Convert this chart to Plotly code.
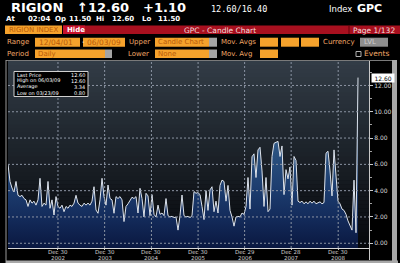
import plotly.graph_objects as go
import pandas as pd

# ---------------- data ----------------
start_date = "2001-12-04"
end_date = "2009-06-03"
prices = [
    6.0, 4.7, 4.2, 3.9, 4.7, 3.65, 3.55, 3.65, 3.4, 3.3,
    2.8, 3.3, 3.05, 3.2, 2.9, 3.3, 4.94, 2.8, 3.05, 2.9,
    4.7, 2.66, 3.3, 2.15, 3.55, 2.8, 2.66, 2.9, 2.4, 2.8,
    2.66, 2.9, 2.8, 3.05, 3.65, 3.05, 2.9, 2.8, 3.05, 2.9,
    3.05, 2.9, 3.2, 4.3, 2.53, 2.28, 3.3, 4.94, 3.55, 2.9,
    4.43, 3.4, 3.3, 2.28, 3.55, 3.4, 3.55, 3.3, 1.65,
    2.8, 3.0, 3.3, 3.5, 3.4, 3.55, 2.3, 4.18, 3.4, 2.0,
    3.8, 3.6, 2.1, 3.7, 2.2, 2.0, 2.9, 2.2, 2.3, 2.1,
    3.4, 2.1, 2.0, 2.05, 1.95, 2.0, 1.0, 2.1, 3.67, 2.1,
    2.0, 2.05, 1.95, 2.1, 3.93, 3.8, 3.85, 3.7, 2.8, 1.8,
    4.0, 2.5, 4.06, 4.3, 2.4, 3.2, 2.3, 4.4, 4.8, 4.7,
    3.2, 4.4, 2.5, 2.0, 1.3, 2.0, 2.05, 2.0, 2.3, 2.2,
    2.8, 5.0, 2.6, 6.58, 6.8, 5.0, 7.1, 7.3, 5.5, 2.8,
    5.0, 2.4, 2.6, 6.6, 7.6, 7.7, 7.75, 6.6, 7.4, 3.7,
    5.6, 4.9, 5.8, 2.9, 6.6, 6.3, 3.2, 3.1, 3.2, 3.0,
    3.15, 3.0, 3.2, 3.05, 3.2, 3.0, 3.1, 3.15, 3.0, 3.1,
    6.85, 7.0, 5.5, 3.6, 7.1, 5.3, 3.2, 3.0, 2.6, 2.5,
    2.2, 1.7, 1.4, 1.0, 4.8, 0.8, 12.6,
]
dates = pd.date_range(start_date, end_date, periods=len(prices))

y_ticks = [0, 2, 4, 6, 8, 10, 12]
y_ticktext = ["0.00", "2.00", "4.00", "6.00", "8.00", "10.00", "12.00"]
y_minor = [1, 3, 5, 7, 9, 11, 13]
x_tickdates = ["2002-12-30", "2003-12-30", "2004-12-30", "2005-12-30",
               "2006-12-29", "2007-12-28", "2008-12-30"]
x_tick_day = ["Dec 30", "Dec 30", "Dec 30", "Dec 30", "Dec 29", "Dec 28", "Dec 30"]
x_tick_year = ["2002", "2003", "2004", "2005", "2006", "2007", "2008"]

legend_labels = ["Last Price", "High on 06/03/09", "Average", "Low on 03/23/09"]
legend_values = ["12.60", "12.60", "3.34", "0.80"]

Y_MIN, Y_MAX = -0.36, 13.86
X_RANGE = ["2001-12-04", "2009-08-28"]

# ---------------- layout helpers ----------------
W, H = 400, 263
PL, PR, PT, PB = 8, 369, 61, 248


def fx(px):
    return (px - PL) / (PR - PL)


def fy(py):
    return (PB - py) / (PB - PT)


shapes = []
annotations = []


def rect(x0, y0, x1, y1, fill, line=None, lw=0, layer="above"):
    shapes.append(dict(type="rect", xref="paper", yref="paper",
                       x0=fx(x0), x1=fx(x1), y0=fy(y1), y1=fy(y0),
                       fillcolor=fill, line=dict(color=line or fill, width=lw),
                       layer=layer))


def pline(x0, y0, x1, y1, color, width=1):
    shapes.append(dict(type="line", xref="paper", yref="paper",
                       x0=fx(x0), x1=fx(x1), y0=fy(y0), y1=fy(y1),
                       line=dict(color=color, width=width), layer="above"))


def text(s, x, y, size, color, family="DejaVu Sans", bold=False, anchor="left"):
    annotations.append(dict(text=s, xref="paper", yref="paper", x=fx(x), y=fy(y),
                            xanchor=anchor, yanchor="middle", showarrow=False,
                            font=dict(size=size, color=color, family=family,
                                      weight="bold" if bold else "normal"),
                            borderpad=0))


ORANGE = "#f5a22c"
ORANGE_TXT = "#b85a08"
LABEL = "#f0a868"
GRAY_BOX = "#a4a4a4"

# background gradient in plot area
n_strips = 47
top_c = (50, 60, 70)
bot_c = (6, 8, 12)
for i in range(n_strips):
    t = i / (n_strips - 1)
    c = tuple(int(top_c[k] + (bot_c[k] - top_c[k]) * t) for k in range(3))
    y0 = PT + (PB - PT) * i / n_strips
    y1 = PT + (PB - PT) * (i + 1) / n_strips + 0.5
    rect(PL, y0, PR, y1, "rgb(%d,%d,%d)" % c, layer="below")

# header row 1
text("RIGION", 10, 8, 13, "white", bold=True)
text("↑12.60", 76, 8, 13, "white", bold=True)
text("+1.10", 142, 8, 13, "white", bold=True)
text("12.60/16.40", 210, 8.5, 8.5, "white", family="DejaVu Sans Mono")
text("Index", 328, 8.5, 8.5, "white")
text("GPC", 356, 8.5, 11, "white", bold=True)
# header row 2
for s, x in [("At", 5), ("02:04", 27), ("Op", 54), ("11.50", 68), ("Hi", 95),
             ("12.60", 111), ("Lo", 141), ("11.50", 157)]:
    text(s, x, 19, 7, "white", bold=True)

# row 3: index / red bar
rect(5, 25.5, 62, 34, ORANGE)
text("RIGION INDEX", 8, 30, 7, ORANGE_TXT)
rect(63, 25.5, 400, 34, "#a8101f")
rect(63, 25.5, 85, 34, "#c8122c")
text("Hide", 66, 30, 7, "white", bold=True)
text("GPC - Candle Chart", 183, 30, 7.5, "#f4dede")
pline(349, 26, 349, 34, "#600008")
text("Page 1/132", 352, 30, 7.5, "#f4dede")

# row 4
ry = 42.2
text("Range", 6, ry, 7, LABEL)
rect(35, 37.7, 80, 46.7, ORANGE)
text("12/04/01", 38, ry, 7.5, ORANGE_TXT)
text("-", 80.5, ry, 7, "white")
rect(83, 37.7, 125, 46.7, ORANGE)
text("06/03/09", 86, ry, 7.5, ORANGE_TXT)
text("Upper", 128, ry, 7, LABEL)
rect(155, 37.7, 209, 46.7, ORANGE)
text("Candle Chart", 157, ry, 7, ORANGE_TXT)
rect(209, 37.7, 217, 46.7, GRAY_BOX)
text("Mov. Avgs", 220, ry, 7, LABEL)
for bx in (260, 281, 301):
    rect(bx, 37.7, bx + 18, 46.7, ORANGE)
text("Currency", 322, ry, 7, LABEL)
rect(360, 37.7, 388, 46.7, "#8e8e8e")
text("LVL", 363, ry, 7, "#cfcfcf")

# row 5
ry = 53.7
text("Period", 6, ry, 7, LABEL)
rect(35, 49.5, 105, 58, ORANGE)
text("Daily", 37, ry, 7, ORANGE_TXT)
rect(105, 49.5, 112, 58, GRAY_BOX)
text("Lower", 127, ry, 7, LABEL)
rect(155, 49.5, 209, 58, ORANGE)
text("None", 157, ry, 7, ORANGE_TXT)
rect(209, 49.5, 217, 58, GRAY_BOX)
text("Mov. Avg", 220, ry, 7, LABEL)
rect(260, 49.5, 278, 58, ORANGE)
rect(356, 51.5, 361, 56.5, "#000000", line="#b0b0b0", lw=1)
text("Events", 363, ry, 7.5, LABEL)

# frame lines
pline(6, 60.5, 392, 60.5, "#7a7a7a")
pline(6, 60, 6, 263, "#9a9a9a")
rect(6, 260.5, 398, 263, "#a8a8a8")
rect(392, 60, 397, 263, "#a8a8a8")
pline(369.5, 248, 369.5, 260, "#c8c8c8")

# gridlines above fill (from tick arrays)
GRID = "#8b94a3"
for v in y_ticks:
    shapes.append(dict(type="line", xref="paper", yref="y", x0=0, x1=1, y0=v, y1=v,
                       line=dict(color=GRID, width=1, dash="2px,2px"), layer="above"))
for d in x_tickdates:
    shapes.append(dict(type="line", xref="x", yref="paper", x0=d, x1=d, y0=0, y1=1,
                       line=dict(color=GRID, width=1, dash="2px,2px"), layer="above"))

# x tick labels (two lines, tight under the axis)
for d, day, yr in zip(x_tickdates, x_tick_day, x_tick_year):
    for s, yy in ((day, 251.8), (yr, 257.6)):
        annotations.append(dict(text=s, xref="x", yref="paper", x=d, y=fy(yy),
                                xanchor="center", yanchor="middle", showarrow=False,
                                font=dict(size=5.5, color="#d0d0d0", family="DejaVu Sans"),
                                borderpad=0))

# legend box
rect(14, 71.5, 88, 96.5, "#000000", line="#d0d0d0", lw=1)
for i, (lab, val) in enumerate(zip(legend_labels, legend_values)):
    yy = 75 + i * 5.9
    text(lab, 16, yy, 5, "white")
    text(val, 86, yy, 5, "white", anchor="right")

# last price tag on axis
annotations.append(dict(text=" %.2f " % prices[-1], xref="paper", yref="y",
                        x=fx(370.5), y=prices[-1], xanchor="left", yanchor="middle",
                        showarrow=False, bgcolor="white",
                        font=dict(size=6, color="black", family="DejaVu Sans"),
                        borderpad=0.5))

# ---------------- traces ----------------
fig = go.Figure()
fig.add_trace(go.Scatter(x=dates, y=[Y_MIN] * len(dates), mode="lines",
                         line=dict(width=0, color="rgba(0,0,0,0)"),
                         hoverinfo="skip", showlegend=False))
fig.add_trace(go.Scatter(
    x=dates, y=prices, mode="lines",
    line=dict(color="#dde3ec", width=1),
    fill="tonexty",
    fillgradient=dict(type="vertical", start=Y_MIN, stop=13.0,
                      colorscale=[[0.0, "#0a1840"], [0.18, "#142c5c"],
                                  [0.33, "#1c3c6e"], [0.55, "#2b5280"],
                                  [1.0, "#5e8fae"]]),
    showlegend=False))

fig.update_layout(
    width=W, height=H, autosize=False,
    margin=dict(l=PL, r=W - PR, t=PT, b=H - PB, pad=0, autoexpand=False),
    paper_bgcolor="#000000", plot_bgcolor="rgba(0,0,0,0)",
    showlegend=False,
    shapes=shapes, annotations=annotations,
    xaxis=dict(type="date", range=X_RANGE, showgrid=False, zeroline=False,
               automargin=False, showticklabels=False,
               tickmode="array", tickvals=x_tickdates,
               ticks="outside", ticklen=1, tickcolor="#c8c8c8",
               showline=True, linecolor="#d8d8d8", linewidth=1),
    yaxis=dict(range=[Y_MIN, Y_MAX], side="right", showgrid=False, zeroline=False,
               automargin=False,
               tickmode="array", tickvals=y_ticks, ticktext=y_ticktext,
               ticks="outside", ticklen=3, tickcolor="#c8c8c8",
               minor=dict(tickvals=y_minor, ticks="outside", ticklen=2,
                          tickcolor="#a0a0a0", showgrid=False),
               tickfont=dict(size=6, color="#d8d8d8", family="DejaVu Sans"),
               showline=True, linecolor="#c8c8c8", linewidth=1),
)

fig.write_html("out.html")
